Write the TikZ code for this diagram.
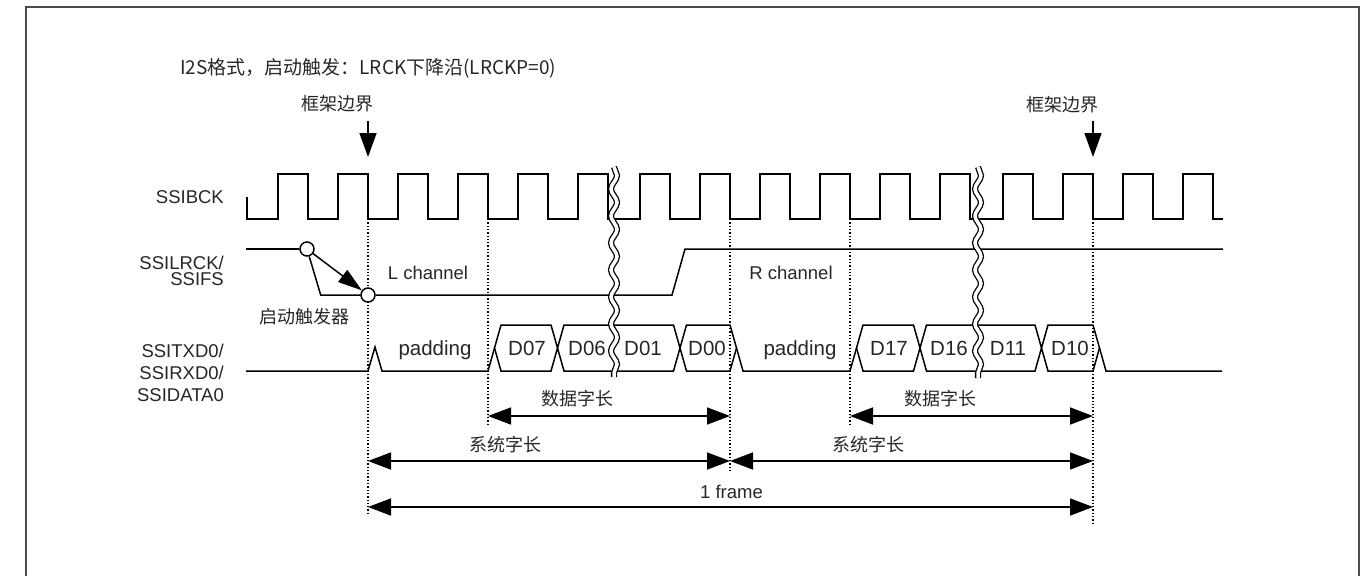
\documentclass[tikz,border=0pt]{standalone}
\usepackage{fontspec}
\setmainfont{Liberation Sans}
\newfontfamily\cjk{Noto Sans CJK SC}
\usetikzlibrary{arrows.meta,decorations.pathmorphing}
\begin{document}
\begin{tikzpicture}[x=1pt,y=-1pt,
  sig/.style={line width=1.5pt, line join=miter},
  guide/.style={line width=1.3pt, dash pattern=on 1.3pt off 2pt},
  dimarrow/.style={line width=1.5pt, {Triangle[length=23pt,width=17pt]}-{Triangle[length=23pt,width=17pt]}},
  downarrow/.style={line width=1.5pt, -{Triangle[length=24pt,width=17pt]}},
  lab/.style={font=\fontsize{18.5}{20}\selectfont, inner sep=0pt, text=black!85},
  cjklab/.style={font=\cjk\fontsize{18}{20}\selectfont, inner sep=0pt, text=black!85},
  dlab/.style={font=\fontsize{20.5}{22}\selectfont, inner sep=0pt, text=black!85},
  brk/.style={line width=1.3pt, double=white, double distance=3.5pt, decorate, decoration={snake, amplitude=3pt, segment length=27pt}},
  trig/.style={circle, draw, fill=white, line width=1.5pt, minimum size=14pt, inner sep=0pt},
]
\useasboundingbox (0,0) rectangle (1370,576);
% outer frame
\draw[line width=2pt, black!70] (26,576) -- (26,7) -- (1359,7) -- (1359,576);

% title
\node[font=\cjk\fontsize{19}{21}\selectfont, anchor=west, inner sep=0pt, text=black!85] (title) at (180,68) {I2S格式，启动触发：LRCK下降沿(LRCKP=0)};

% frame boundary labels and arrows
\node[cjklab] (fb1) at (337,104) {框架边界};
\node[cjklab] (fb2) at (1062,105) {框架边界};
\coordinate (fa1s) at (368,121); \coordinate (fa1e) at (368,157);
\coordinate (fa2s) at (1093,121); \coordinate (fa2e) at (1093,157);
\draw[downarrow] (fa1s) -- (fa1e);
\draw[downarrow] (fa2s) -- (fa2e);

% signal names
\node[lab, anchor=base east] (nbck) at (224,203) {SSIBCK};
\node[lab, anchor=base east] (nlr1) at (224,269) {SSILRCK/};
\node[lab, anchor=base east] (nlr2) at (224,285) {SSIFS};
\node[lab, anchor=base east] (ntx1) at (224,357) {SSITXD0/};
\node[lab, anchor=base east] (ntx2) at (224,379) {SSIRXD0/};
\node[lab, anchor=base east] (ntx3) at (224,401) {SSIDATA0};

% dotted guides
\draw[guide] (368,219) -- (368,515);
\draw[guide] (488,219) -- (488,424);
\draw[guide] (730,219) -- (730,470);
\draw[guide] (850,219) -- (850,424);
\draw[guide] (1093,219) -- (1093,523);

% SSIBCK clock
\draw[sig] (247,197) -- (247,219)
  foreach \r in {278,338,...,578} { -- (\r,219) -- (\r,174) -- ({\r+30},174) -- ({\r+30},219) }
  foreach \r in {640,700,...,940} { -- (\r,219) -- (\r,174) -- ({\r+30},174) -- ({\r+30},219) }
  foreach \r in {1003,1063,...,1183} { -- (\r,219) -- (\r,174) -- ({\r+30},174) -- ({\r+30},219) }
  -- (1223,219);

% SSILRCK
\node[trig] (t1) at (307,249) {};
\node[trig] (t2) at (368,295) {};
\coordinate (lrs) at (246,249);
\coordinate (lrf) at (320.7,295);
\draw[sig] (lrs) -- (t1);
\draw[sig] (t1) -- (lrf) -- (t2);
\draw[sig] (t2) -- (672,295) -- (685,249) -- (1223,249);
\draw[line width=1.5pt, -{Triangle[length=24pt,width=15pt]}] (t1) -- (t2);
\node[cjklab] (trg) at (304,317) {启动触发器};
\node[lab, anchor=base] (lch) at (428,279.5) {L channel};
\node[lab, anchor=base] (rch) at (791,279.5) {R channel};

% data line
\draw[sig] (246,371) -- (368,371) -- (375,347) -- (382,371) -- (488,371)
  -- (501,325) -- (551,325) -- (557.5,348) -- (564,325) -- (673.5,325) -- (680,348) -- (686.5,325) -- (730,325) -- (743,371)
  -- (850,371) -- (863,325) -- (913.5,325) -- (920,348) -- (926.5,325) -- (1035,325) -- (1041.5,348) -- (1048,325) -- (1093,325) -- (1106,371) -- (1222,371);
\draw[sig] (494.5,348) -- (501,371) -- (551,371) -- (557.5,348) -- (564,371) -- (673.5,371) -- (680,348) -- (686.5,371) -- (730,371) -- (736.5,348);
\draw[sig] (856.5,348) -- (863,371) -- (913.5,371) -- (920,348) -- (926.5,371) -- (1035,371) -- (1041.5,348) -- (1048,371) -- (1093,371) -- (1099.5,348);

\node[dlab, anchor=base] (pad1) at (435,355) {padding};
\node[dlab, anchor=base] (d07) at (527,355) {D07};
\node[dlab, anchor=base] (d06) at (587,355) {D06};
\node[dlab, anchor=base] (d01) at (643,355) {D01};
\node[dlab, anchor=base] (d00) at (707,355) {D00};
\node[dlab, anchor=base] (pad2) at (800,355) {padding};
\node[dlab, anchor=base] (d17) at (889,355) {D17};
\node[dlab, anchor=base] (d16) at (949,355) {D16};
\node[dlab, anchor=base] (d11) at (1008,355) {D11};
\node[dlab, anchor=base] (d10) at (1070,355) {D10};

% break marks
\coordinate (b1t) at (614,167); \coordinate (b1b) at (614,377);
\coordinate (b2t) at (978,167); \coordinate (b2b) at (978,378);
\draw[brk] (b1t) -- (b1b);
\draw[brk] (b2t) -- (b2b);

% dimension arrows
\coordinate (da1) at (488,416); \coordinate (da2) at (730,416);
\coordinate (db1) at (850,416); \coordinate (db2) at (1093,416);
\coordinate (sa1) at (368,461); \coordinate (sa2) at (730,461);
\coordinate (sb1) at (730,461); \coordinate (sb2) at (1093,461);
\coordinate (fr1) at (368,507); \coordinate (fr2) at (1093,507);
\draw[dimarrow] (da1) -- (da2);
\draw[dimarrow] (db1) -- (db2);
\draw[dimarrow] (sa1) -- (sa2);
\draw[dimarrow] (sb1) -- (sb2);
\draw[dimarrow] (fr1) -- (fr2);
\node[cjklab] (dw1) at (577,399) {数据字长};
\node[cjklab] (dw2) at (940,399) {数据字长};
\node[cjklab] (sw1) at (505,445) {系统字长};
\node[cjklab] (sw2) at (868,445) {系统字长};
\node[lab, anchor=base] (frm) at (731.5,498) {1 frame};
\end{tikzpicture}
\end{document}
